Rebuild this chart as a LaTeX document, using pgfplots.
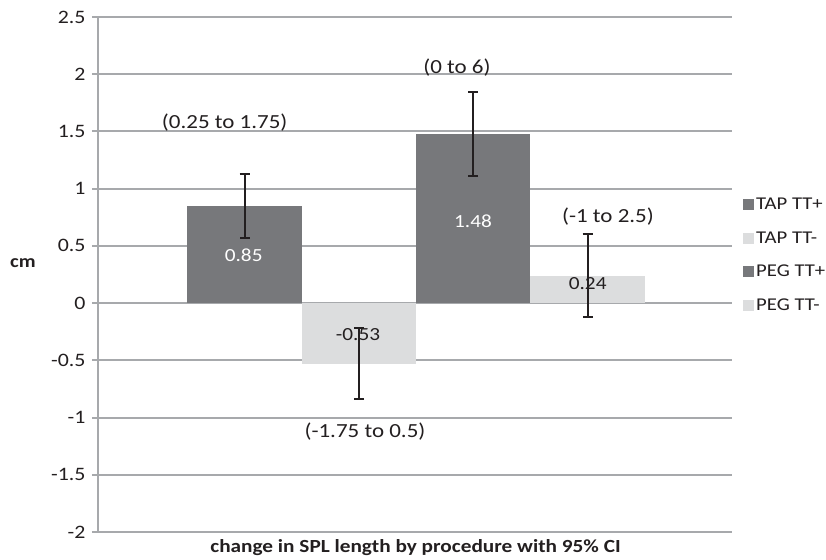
\documentclass[border=0pt]{standalone}
\usepackage{fontspec}
\setmainfont{Carlito}[FakeStretch=1.15]
\usepackage{pgfplots}
\pgfplotsset{compat=1.18}
\definecolor{darkbar}{HTML}{77787B}
\definecolor{lightbar}{HTML}{DCDDDE}
\definecolor{gridgray}{HTML}{A7A9AC}
\definecolor{inkblack}{HTML}{231F20}
\newcommand{\px}[1]{\fontsize{#1}{#1}\selectfont}
\begin{document}
\begin{tikzpicture}
\begin{axis}[
    scale only axis,
    width=634pt, height=515pt,
    xmin=98, xmax=732,
    ymin=-2, ymax=2.5,
    ytick={-2,-1.5,-1,-0.5,0,0.5,1,1.5,2,2.5},
    yticklabels={-2,-1.5,-1,-0.5,0,0.5,1,1.5,2,2.5},
    xtick=\empty,
    axis lines*=left,
    axis line style={gridgray, line width=2pt},
    ymajorgrids,
    grid style={gridgray, line width=2pt},
    tick align=outside,
    major tick length=6pt,
    ytick style={gridgray, line width=2pt},
    yticklabel style={font=\px{19}, text=inkblack, xshift=-3pt},
    ybar, bar width=114.5,
    clip=false,
    legend style={draw=none, fill=none, at={(axis cs:740,0.42)}, anchor=west,
        font=\px{18}, text=inkblack, row sep=16.5pt, cells={anchor=west}},
    legend image code/.code={\fill[#1] (0pt,-5.5pt) rectangle (11pt,5.5pt);},
    error bars/error bar style={inkblack, line width=2pt},
    error bars/error mark options={rotate=90, mark size=5pt, line width=2pt, inkblack},
]
\addplot[fill=darkbar, draw=none, bar shift=0pt,
    error bars/.cd, y dir=both, y explicit]
    coordinates {(244.5,0.85) +- (0,0.28)};
\addplot[fill=lightbar, draw=none, bar shift=0pt,
    error bars/.cd, y dir=both, y explicit]
    coordinates {(359,-0.53) +- (0,0.31)};
\addplot[fill=darkbar, draw=none, bar shift=0pt,
    error bars/.cd, y dir=both, y explicit]
    coordinates {(473,1.48) +- (0,0.365)};
\addplot[fill=lightbar, draw=none, bar shift=0pt,
    error bars/.cd, y dir=both, y explicit]
    coordinates {(587.5,0.24) +- (0,0.36)};
\legend{TAP TT+, TAP TT-, PEG TT+, PEG TT-}

% value labels
\node[font=\px{18.5}, text=white] at (axis cs:243.7,0.415) {0.85};
\node[font=\px{18.5}, text=inkblack] at (axis cs:358,-0.278) {-0.53};
\node[font=\px{18.5}, text=white] at (axis cs:473,0.718) {1.48};
\node[font=\px{18.5}, text=inkblack] at (axis cs:587.7,0.174) {0.24};

% confidence ranges
\node[font=\px{20}, text=inkblack] at (axis cs:224.7,1.575) {(0.25 to 1.75)};
\node[font=\px{20}, text=inkblack] at (axis cs:457,2.056) {(0 to 6)};
\node[font=\px{20}, text=inkblack] at (axis cs:608,0.756) {(-1 to 2.5)};
\node[font=\px{20}, text=inkblack] at (axis cs:365,-1.123) {(-1.75 to 0.5)};

% axis titles
\node[font=\bfseries\px{18}, text=inkblack] at (axis cs:23,0.35) {cm};
\node[font=\bfseries\px{18.5}, text=inkblack] at (axis cs:415.5,-2.14) {change in SPL length by procedure with 95\% CI};

\coordinate (O) at (rel axis cs:0,0);
\end{axis}
\pgfresetboundingbox
\path (O) ++(-98pt,-27pt) rectangle ++(826pt,559pt);
\end{tikzpicture}
\end{document}
